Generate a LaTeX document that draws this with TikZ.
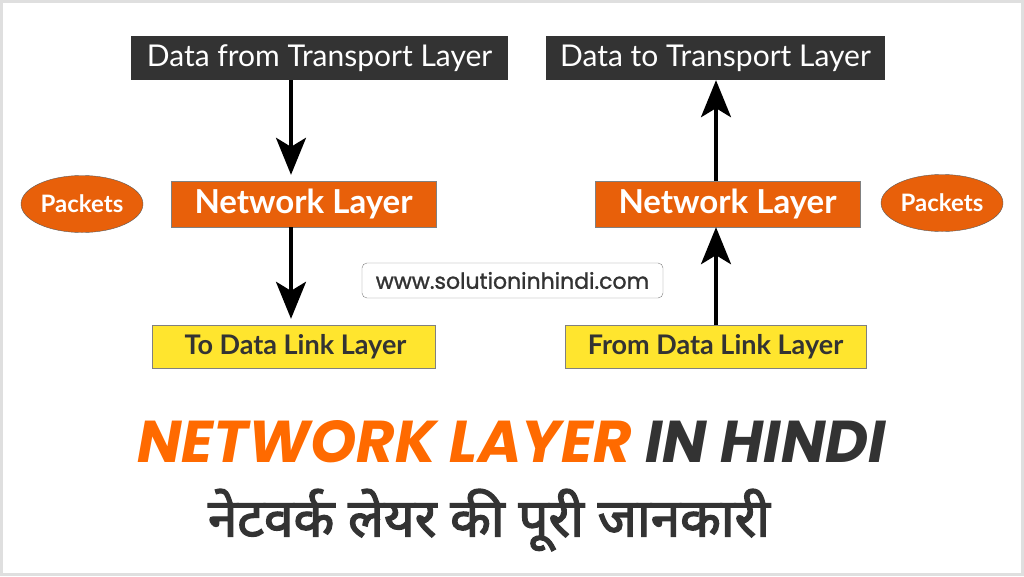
\documentclass[tikz,border=0pt]{standalone}
\usepackage{fontspec}
\setmainfont{Lato}
\newfontfamily\titlefont{Poppins}
\newfontfamily\urlfont[FakeBold=1.2]{Poppins}
\newfontfamily\hindifont[Script=Devanagari,FakeBold=2.5]{Noto Sans}
\usetikzlibrary{shapes.geometric,arrows.meta}
\definecolor{darkbox}{HTML}{333333}
\definecolor{netorange}{HTML}{E8600A}
\definecolor{linkyellow}{HTML}{FFE52E}
\definecolor{titleorange}{HTML}{FF6A00}
\tikzset{
	transportbox/.style={fill=darkbox, text=white, minimum height=44pt, inner sep=0pt, font=\fontsize{30}{32}\selectfont},
	netbox/.style={fill=netorange, draw=gray, text=white, minimum height=46pt, minimum width=265pt, inner sep=0pt, font=\fontsize{33}{36}\selectfont\bfseries},
	linkbox/.style={fill=linkyellow, draw=gray, text=darkbox, minimum height=43pt, inner sep=0pt, font=\fontsize{27}{30}\selectfont\bfseries},
	packet/.style={ellipse, fill=netorange, draw=darkbox!80, text=white, minimum width=122pt, minimum height=57pt, inner sep=0pt, font=\fontsize{24}{26}\selectfont\bfseries},
	flow/.style={-{Stealth[length=37pt,width=30pt,inset=9pt]}, line width=3.5pt, black}
}
\begin{document}
\begin{tikzpicture}[x=1pt,y=-1pt]
	\fill[white] (0,0) rectangle (1024,576);
	\draw[gray!25, line width=3pt] (1.5,1.5) rectangle (1022.5,574.5);
	\useasboundingbox (0,0) rectangle (1024,576);
	
	% sending side
	\node[transportbox, minimum width=377pt] (fromtrans) at (319.5,58) {Data from Transport Layer};
	\node[netbox] (netleft) at (303.5,204) {Network Layer};
	\node[linkbox, minimum width=283pt] (tolink) at (293.5,346.5) {\hspace*{4pt}To Data Link Layer};
	\node[packet] (pktleft) at (82,204) {Packets};
	
	% receiving side
	\node[transportbox, minimum width=339pt] (totrans) at (715.5,58) {Data to Transport Layer};
	\node[netbox] (netright) at (727.5,204) {Network Layer};
	\node[linkbox, minimum width=301pt] (fromlink) at (715.5,347) {From Data Link Layer};
	\node[packet] (pktright) at (942,203) {Packets};
	
	\draw[flow, shorten >=6pt] (fromtrans.south -| 291,0) -- (netleft.north -| 291,0);
	\draw[flow, shorten >=6pt] (netleft.south -| 291,0) -- (tolink.north -| 291,0);
	\draw[flow] (fromlink.north -| 716,0) -- (netright.south -| 716,0);
	\draw[flow] (netright.north -| 716,0) -- (totrans.south -| 716,0);
	
	\node[draw=gray, rounded corners=5pt, minimum width=301pt, minimum height=35pt, inner sep=0pt, text=darkbox, font=\urlfont\fontsize{22}{24}\selectfont] (site) at (512.5,280.5) {www.solutioninhindi.com};
	
	\node[font=\titlefont\bfseries\itshape\fontsize{59}{62}\selectfont] (title) at (511.5,442) {\textcolor{titleorange}{NETWORK LAYER} \textcolor{darkbox}{IN HINDI}};
	\node[text=darkbox, font=\hindifont\fontsize{53}{58}\selectfont] (subtitle) at (489,520) {नेटवर्क लेयर की पूरी जानकारी};
\end{tikzpicture}
\end{document}
